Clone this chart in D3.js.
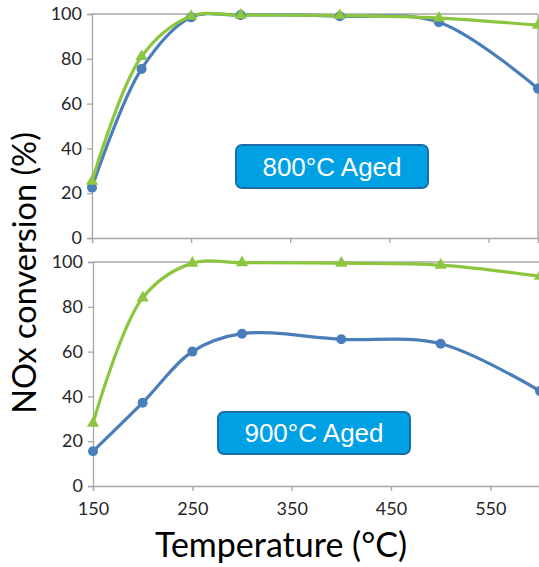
<!DOCTYPE html>
<html>
<head>
<meta charset="utf-8">
<script src="https://cdn.jsdelivr.net/npm/d3@7"></script>
<style>
  body { margin: 0; background: #fff; }
  svg { display: block; }
</style>
</head>
<body>
<div id="chart"></div>
<script>
// temperatures (°C)
const temps = [150, 200, 250, 300, 400, 500, 600];
// 800°C aged
const blue800 = [22.5, 75.5, 98.5, 99.5, 99, 96.3, 66.7];
const green800 = [25.3, 81, 99, 99.5, 99.3, 98.2, 95];
// 900°C aged
const blue900 = [15.5, 37.2, 60, 68, 65.5, 63.5, 42.4];
const green900 = [28, 84, 99.5, 99.7, 99.5, 98.6, 93.6];
const xTicks = [150, 250, 350, 450, 550];
const yTicks = [0, 20, 40, 60, 80, 100];
const panelLabels = ["800°C Aged", "900°C Aged"];

const width = 539, height = 567;
const blue = "#4a7ebb", green = "#8cc63f", axisColor = "#a6a6a6";

const svg = d3.select("#chart")
    .append("svg")
    .attr("width", width)
    .attr("height", height);

const panels = [
    {blue: blue800, green: green800, label: panelLabels[0], x0: 92, x1: 538, top: 14, bottom: 238,
     box: {x: 236, y: 145, w: 192, h: 43}, showLabels: false, rightBorder: true},
    {blue: blue900, green: green900, label: panelLabels[1], x0: 93, x1: 540, top: 262, bottom: 486,
     box: {x: 218, y: 412, w: 192, h: 42}, showLabels: true, rightBorder: false}
];

panels.forEach(function(p) {
    const x = d3.scaleLinear().domain([150, 600]).range([p.x0, p.x1]);
    const y = d3.scaleLinear().domain([0, 100]).range([p.bottom, p.top]);
    const g = svg.append("g");

    // plot frame top / right
    g.append("line")
        .attr("x1", x(150)).attr("x2", x(600))
        .attr("y1", y(100)).attr("y2", y(100))
        .attr("stroke", axisColor).attr("stroke-width", 1.3);
    if (p.rightBorder) {
        g.append("line")
            .attr("x1", x(600)).attr("x2", x(600))
            .attr("y1", y(100)).attr("y2", y(0))
            .attr("stroke", axisColor).attr("stroke-width", 1.3);
    }

    const yAxis = g.append("g")
        .attr("transform", `translate(${x(150)},0)`)
        .call(d3.axisLeft(y).tickValues(yTicks).tickSize(5).tickPadding(5));
    const xAxis = g.append("g")
        .attr("transform", `translate(0,${y(0)})`)
        .call(d3.axisBottom(x).tickValues(xTicks).tickSize(5).tickPadding(11)
            .tickFormat(p.showLabels ? d3.format("d") : ""));
    [xAxis, yAxis].forEach(function(a) {
        a.select(".domain").attr("stroke", axisColor).attr("stroke-width", 1.3);
        a.selectAll(".tick line").attr("stroke", axisColor).attr("stroke-width", 1.3);
        a.selectAll(".tick text")
            .attr("fill", "#262626")
            .style("font-family", "Lato, 'Open Sans', sans-serif")
            .style("font-size", "18px");
    });

    const line = d3.line()
        .x(function(d, i) { return x(temps[i]); })
        .y(function(d) { return y(d); })
        .curve(d3.curveCatmullRom.alpha(0.5));

    g.append("path")
        .datum(p.blue)
        .attr("d", line)
        .attr("fill", "none")
        .attr("stroke", blue)
        .attr("stroke-width", 3.2);
    g.append("path")
        .datum(p.green)
        .attr("d", line)
        .attr("fill", "none")
        .attr("stroke", green)
        .attr("stroke-width", 3.2);

    g.selectAll(".dot")
        .data(p.blue)
        .enter().append("circle")
        .attr("class", "dot")
        .attr("cx", function(d, i) { return x(temps[i]); })
        .attr("cy", function(d) { return y(d); })
        .attr("r", 5)
        .attr("fill", blue);

    g.selectAll(".tri")
        .data(p.green)
        .enter().append("path")
        .attr("class", "tri")
        .attr("d", d3.symbol().type(d3.symbolTriangle).size(65))
        .attr("transform", function(d, i) { return `translate(${x(temps[i])},${y(d)})`; })
        .attr("fill", green);

    // label box
    g.append("rect")
        .attr("x", p.box.x).attr("y", p.box.y)
        .attr("width", p.box.w).attr("height", p.box.h)
        .attr("rx", 6)
        .attr("fill", "#00a0e4")
        .attr("stroke", "#1b6ea5")
        .attr("stroke-width", 2);
    g.append("text")
        .attr("x", p.box.x + p.box.w / 2)
        .attr("y", p.box.y + p.box.h / 2 + 9)
        .attr("text-anchor", "middle")
        .attr("fill", "#fff")
        .style("font-family", "'Liberation Sans', Arial, sans-serif")
        .style("font-size", "26px")
        .text(p.label);
});

svg.append("text")
    .attr("transform", "translate(36,273) rotate(-90)")
    .attr("text-anchor", "middle")
    .attr("fill", "#000")
    .style("font-family", "Lato, 'Open Sans', sans-serif")
    .style("font-size", "32.5px")
    .text("NOx conversion (%)");

svg.append("text")
    .attr("x", 281)
    .attr("y", 557)
    .attr("text-anchor", "middle")
    .attr("fill", "#000")
    .style("font-family", "Lato, 'Open Sans', sans-serif")
    .style("font-size", "34px")
    .text("Temperature (°C)");
</script>
</body>
</html>
